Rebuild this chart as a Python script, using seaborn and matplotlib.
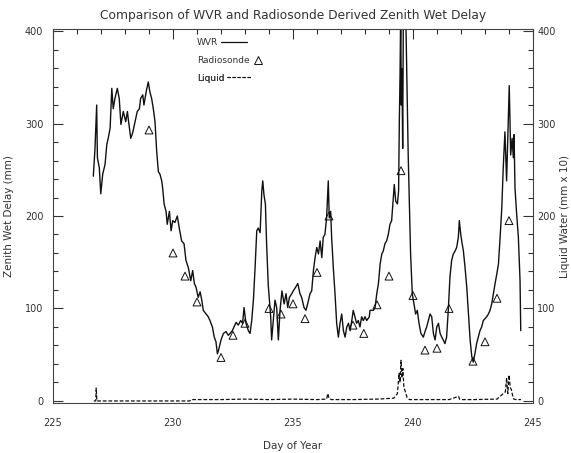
import matplotlib
matplotlib.use('Agg')
import matplotlib.pyplot as plt
import seaborn as sns
import pandas as pd
from matplotlib.ticker import MultipleLocator
from matplotlib.lines import Line2D

# WVR zenith wet delay (day of year, mm)
wvr_day = [226.68, 226.75, 226.82, 226.85, 226.93, 226.99, 227.07, 227.17, 227.24, 227.30,
           227.38, 227.45, 227.51, 227.58, 227.68, 227.76, 227.83, 227.93, 228.03, 228.10,
           228.15, 228.24, 228.32, 228.42, 228.51, 228.60, 228.65, 228.74, 228.79, 228.88,
           228.97, 229.04, 229.11, 229.18, 229.25, 229.32, 229.39, 229.46, 229.53, 229.57,
           229.63, 229.71, 229.76, 229.85, 229.92, 229.99, 230.08, 230.18, 230.26, 230.36,
           230.46, 230.54, 230.64, 230.74, 230.82, 230.89, 230.96, 231.05, 231.13, 231.20,
           231.26, 231.38, 231.47, 231.54, 231.64, 231.72, 231.79, 231.85, 231.90, 232.00,
           232.10, 232.21, 232.30, 232.38, 232.47, 232.54, 232.63, 232.72, 232.82, 232.90,
           232.96, 233.04, 233.14, 233.21, 233.28, 233.35, 233.42, 233.49, 233.55, 233.63,
           233.70, 233.74, 233.79, 233.85, 233.90, 233.97, 234.01, 234.07, 234.11, 234.18,
           234.25, 234.32, 234.39, 234.46, 234.54, 234.63, 234.71, 234.78, 234.85, 234.95,
           235.01, 235.11, 235.20, 235.29, 235.36, 235.46, 235.54, 235.61, 235.71, 235.78,
           235.85, 235.92, 235.99, 236.06, 236.13, 236.20, 236.26, 236.33, 236.40, 236.47,
           236.51, 236.57, 236.61, 236.68, 236.75, 236.82, 236.89, 236.96, 237.03, 237.10,
           237.17, 237.24, 237.31, 237.38, 237.45, 237.51, 237.58, 237.65, 237.72, 237.79,
           237.86, 237.93, 238.00, 238.07, 238.18, 238.21, 238.35, 238.42, 238.49, 238.56,
           238.63, 238.70, 238.76, 238.83, 238.90, 238.97, 239.04, 239.11, 239.18, 239.22,
           239.28, 239.35, 239.40, 239.43, 239.46, 239.49, 239.51, 239.54, 239.57, 239.60,
           239.65, 239.71, 239.80, 239.90, 239.97, 240.04, 240.11, 240.18, 240.25, 240.33,
           240.43, 240.50, 240.57, 240.64, 240.71, 240.78, 240.85, 240.92, 240.99, 241.06,
           241.13, 241.20, 241.26, 241.33, 241.40, 241.47, 241.54, 241.61, 241.68, 241.75,
           241.82, 241.89, 241.93, 241.99, 242.03, 242.10, 242.17, 242.24, 242.31, 242.38,
           242.45, 242.51, 242.58, 242.65, 242.72, 242.79, 242.86, 242.93, 243.00, 243.07,
           243.14, 243.21, 243.28, 243.35, 243.42, 243.49, 243.56, 243.63, 243.70, 243.76,
           243.83, 243.90, 243.97, 244.01, 244.07, 244.13, 244.18, 244.21, 244.25, 244.32,
           244.39, 244.46, 244.49]
wvr_zwd = [243, 273, 320, 263, 252, 224, 245, 256, 277, 284,
           295, 338, 316, 327, 338, 327, 299, 313, 302, 313,
           302, 284, 290, 302, 313, 316, 327, 331, 320, 334,
           345, 334, 327, 316, 302, 270, 248, 245, 238, 230,
           213, 205, 191, 205, 184, 195, 193, 200, 187, 173,
           170, 152, 144, 130, 141, 127, 123, 112, 118, 109,
           98, 94, 91, 87, 80, 69, 64, 51, 55, 66,
           73, 75, 71, 73, 76, 80, 85, 82, 87, 84,
           101, 84, 76, 73, 87, 109, 144, 184, 187, 182,
           227, 238, 223, 213, 170, 125, 112, 91, 66, 87,
           109, 101, 66, 98, 119, 105, 116, 101, 112, 116,
           119, 123, 127, 116, 112, 101, 98, 105, 116, 119,
           141, 155, 166, 159, 173, 155, 177, 180, 198, 238,
           198, 205, 177, 144, 116, 84, 69, 84, 94, 76,
           69, 80, 84, 76, 87, 98, 91, 84, 87, 80,
           91, 87, 91, 87, 91, 98, 98, 101, 116, 127,
           148, 159, 162, 170, 173, 180, 191, 195, 220, 234,
           216, 213, 227, 302, 352, 430, 320, 359, 273, 430,
           430, 400, 266, 159, 116, 105, 94, 98, 84, 73,
           69, 75, 80, 87, 94, 91, 73, 66, 80, 84,
           73, 69, 66, 62, 69, 98, 134, 152, 159, 162,
           166, 177, 195, 180, 173, 162, 144, 123, 94, 66,
           48, 42, 51, 62, 69, 76, 80, 87, 89, 91,
           94, 98, 105, 116, 127, 137, 148, 177, 209, 252,
           291, 238, 302, 341, 266, 284, 263, 288, 230, 202,
           177, 130, 76]

# radiosonde derived zenith wet delay
sonde_day = [229.0, 230.0, 230.5, 231.0, 232.0, 232.5, 233.0, 234.0, 234.5, 235.0,
             235.5, 236.0, 236.5, 237.5, 237.95, 238.5, 239.0, 239.5, 240.0, 240.5,
             241.0, 241.5, 242.5, 243.0, 243.5, 244.0]
sonde_zwd = [293, 160, 135, 107, 47, 71, 84, 100, 94, 105,
             89, 139, 200, 82, 73, 104, 135, 249, 114, 55,
             57, 100, 43, 64, 111, 195]

# liquid water (mm x 10)
liq_day = [226.70, 226.78, 226.80, 226.83, 227.00, 230.70, 230.75, 232.0, 233.0, 234.0,
           235.0, 236.0, 236.40, 236.45, 236.50, 236.60, 237.5, 238.5, 239.20, 239.35,
           239.42, 239.46, 239.50, 239.54, 239.58, 239.62, 239.68, 239.75, 239.85, 240.5,
           241.5, 241.90, 241.94, 241.98, 242.5, 243.5, 243.85, 243.90, 243.95, 244.00,
           244.05, 244.10, 244.15, 244.20, 244.30, 244.50]
liq_val = [0, 0, 14, 0, 0, 0, 1.5, 1.5, 2, 1.5,
           2, 1.5, 2, 8, 3, 1.5, 1.5, 2, 3, 8,
           30, 20, 44, 25, 35, 15, 10, 4, 1.5, 1.5,
           1.5, 5, 2, 1.5, 1.5, 2, 10, 25, 8, 28,
           15, 12, 6, 2, 1.5, 1.5]

x_ticks = [225, 230, 235, 240, 245]
y_ticks = [0, 100, 200, 300, 400]

wvr = pd.DataFrame({'day': wvr_day, 'zwd': wvr_zwd})
sonde = pd.DataFrame({'day': sonde_day, 'zwd': sonde_zwd})
liq = pd.DataFrame({'day': liq_day, 'lw': liq_val})

sns.set_style('white')
plt.rcParams['font.family'] = ['DejaVu Sans']
txt = '#333333'

fig = plt.figure(figsize=(5.71, 4.53), dpi=100)
ax = fig.add_axes([53 / 571, 50 / 453, 480 / 571, 374 / 453])

sns.lineplot(data=wvr, x='day', y='zwd', ax=ax, color='#111111', lw=1.0,
             sort=False, estimator=None)
sns.lineplot(data=liq, x='day', y='lw', ax=ax, color='#111111', lw=0.9,
             sort=False, estimator=None, linestyle=(0, (3, 1.5)))
sns.scatterplot(data=sonde, x='day', y='zwd', ax=ax, marker='^', s=32,
                facecolor='none', edgecolor='#111111', linewidth=0.7, zorder=3)

ax.set_xlim(225, 245)
ax.set_ylim(-2.2, 402.2)
ax.set_xticks(x_ticks)
ax.set_yticks(y_ticks)
ax.xaxis.set_minor_locator(MultipleLocator(1))
ax.yaxis.set_minor_locator(MultipleLocator(20))
ax.tick_params(which='both', direction='in', top=True, right=False,
               colors=txt, labelsize=7, width=0.8)
ax.tick_params(which='major', length=7)
ax.tick_params(which='minor', length=3.5)
ax.tick_params(axis='x', pad=11)
ax.tick_params(axis='y', pad=7)
for s in ax.spines.values():
    s.set_color('#444444')
    s.set_linewidth(0.8)

ax.set_xlabel('Day of Year', fontsize=7.5, color=txt, labelpad=9)
ax.set_ylabel('Zenith Wet Delay (mm)', fontsize=7.5, color=txt, labelpad=8)
ax.set_title('Comparison of WVR and Radiosonde Derived Zenith Wet Delay',
             fontsize=8.8, color=txt, pad=7)

ax2 = ax.twinx()
ax2.set_ylim(ax.get_ylim())
ax2.set_yticks(y_ticks)
ax2.yaxis.set_minor_locator(MultipleLocator(20))
ax2.tick_params(which='both', direction='in', colors=txt, labelsize=7, width=0.8)
ax2.tick_params(which='major', length=7, pad=3)
ax2.tick_params(which='minor', length=3.5)
ax2.set_ylabel('Liquid Water (mm x 10)', fontsize=7.5, color=txt, labelpad=3)
for s in ax2.spines.values():
    s.set_visible(False)

# legend rows, each with its key after the label
rows = [
    ('WVR', Line2D([], [], color='#111111', lw=0.9), 2.9, 0.975),
    ('Radiosonde', Line2D([], [], ls='none', marker='^', ms=5.5, mfc='none',
                          mec='#111111', mew=0.7), 1.2, 0.928),
    ('Liquid', Line2D([], [], color='#111111', lw=0.8, ls=(0, (3, 1.5))), 2.6, 0.881),
]
for label, handle, hl, yy in rows:
    leg = ax.legend([handle], [label], loc='upper left', bbox_to_anchor=(0.30, yy),
                    markerfirst=False, frameon=False, fontsize=6.5,
                    handlelength=hl, handletextpad=0.3, borderpad=0, borderaxespad=0)
    for t in leg.get_texts():
        t.set_color(txt)
    ax.add_artist(leg)

fig.savefig('out.png', dpi=100)
